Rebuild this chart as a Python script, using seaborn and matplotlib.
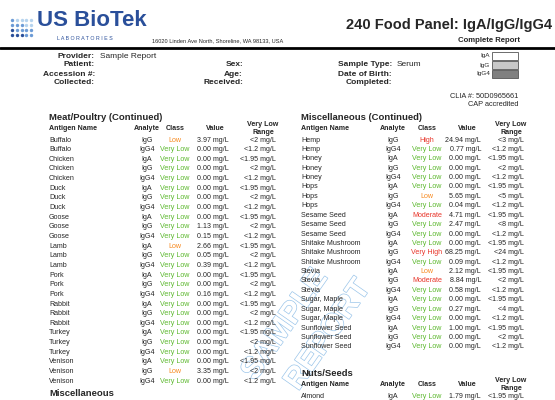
import matplotlib
matplotlib.use("Agg")
import matplotlib.pyplot as plt
import matplotlib.patheffects as pe
import seaborn as sns

sns.set_style("white")
plt.rcParams['font.family'] = ['Liberation Sans', 'DejaVu Sans']

left_names = ["Buffalo","Buffalo","Chicken","Chicken","Chicken","Duck","Duck","Duck","Goose","Goose","Goose",
              "Lamb","Lamb","Lamb","Pork","Pork","Pork","Rabbit","Rabbit","Rabbit","Turkey","Turkey","Turkey",
              "Venison","Venison","Venison"]
left_analyte = ["IgG","IgG4"] + ["IgA","IgG","IgG4"]*8
left_class = ["Low","Very Low","Very Low","Very Low","Very Low","Very Low","Very Low","Very Low","Very Low","Very Low","Very Low",
              "Low","Very Low","Very Low","Very Low","Very Low","Very Low","Very Low","Very Low","Very Low","Very Low","Very Low","Very Low",
              "Very Low","Low","Very Low"]
left_value = [3.97,0.00,0.00,0.00,0.00,0.00,0.00,0.00,0.00,1.13,0.15,2.66,0.05,0.39,0.00,0.00,0.16,0.00,0.00,0.00,0.00,0.00,0.00,0.00,3.35,0.00]
left_range = ["<2","<1.2"] + ["<1.95","<2","<1.2"]*8

right_names = ["Hemp","Hemp","Honey","Honey","Honey","Hops","Hops","Hops","Sesame Seed","Sesame Seed","Sesame Seed",
               "Shitake Mushroom","Shitake Mushroom","Shitake Mushroom","Stevia","Stevia","Stevia",
               "Sugar, Maple","Sugar, Maple","Sugar, Maple","Sunflower Seed","Sunflower Seed","Sunflower Seed"]
right_analyte = ["IgG","IgG4"] + ["IgA","IgG","IgG4"]*7
right_class = ["High","Very Low","Very Low","Very Low","Very Low","Very Low","Low","Very Low","Moderate","Very Low","Very Low",
               "Very Low","Very High","Very Low","Low","Moderate","Very Low","Very Low","Very Low","Very Low","Very Low","Very Low","Very Low"]
right_value = [24.94,0.77,0.00,0.00,0.00,0.00,5.65,0.04,4.71,2.47,0.00,0.00,68.25,0.09,2.12,8.84,0.58,0.00,0.27,0.00,1.00,0.00,0.00]
right_range = ["<3","<1.2","<1.95","<2","<1.2","<1.95","<5","<1.2","<1.95","<8","<1.2","<1.95","<24","<1.2",
               "<1.95","<2","<1.2","<1.95","<4","<1.2","<1.95","<2","<1.2"]

class_colors = {"Very Low":"#5cb82e","Low":"#f7891e","Moderate":"#e8352a","High":"#e8352a","Very High":"#e8352a"}

fig = plt.figure(figsize=(5.55,4.0), dpi=100)
ax = fig.add_axes([0,0,1,1])
ax.set_xlim(0,555); ax.set_ylim(400,0); ax.axis("off")

FS = 5.1
# header logo dots
blues = ["#b5d3ee","#6c9bd6","#2a4f9a"]
for i in range(5):
    for j in range(4):
        ax.scatter(12+i*4.8, 20+j*5, s=6, color=blues[min(2,max(0,(j+(4-i)//2)//2))], zorder=3, linewidths=0)
ax.text(37, 31, "US BioTek", fontsize=16, fontweight="bold", color="#2a4f9a", va="bottom")
ax.text(85, 38.5, "L A B O R A T O R I E S", fontsize=3.8, color="#2a4f9a", ha="center", va="center")
ax.text(152, 41, "16020 Linden Ave North, Shoreline, WA 98133, USA", fontsize=4.1, va="center")
ax.text(552, 25, "240 Food Panel: IgA/IgG/IgG4", fontsize=10.5, fontweight="bold", ha="right", va="center")
ax.text(489, 41, "Complete Report", fontsize=5.6, fontweight="bold", ha="center", va="center")
ax.plot([0,555],[48,48], color="black", lw=2)

def lab(x, y, s, v=None):
    ax.text(x, y, s, fontsize=6, fontweight="bold", ha="right", va="center")
    if v:
        ax.text(x+5, y, v, fontsize=6, ha="left", va="center")
lab(95,56,"Provider:","Sample Report"); lab(95,65,"Patient:"); lab(95,74,"Accession #:"); lab(95,83,"Collected:")
lab(243,65,"Sex:"); lab(243,74,"Age:"); lab(243,83,"Received:")
lab(392,65,"Sample Type:","Serum"); lab(392,74,"Date of Birth:"); lab(392,83,"Completed:")
for k,(nm,fc) in enumerate([("IgA","white"),("IgG","#c8c8c8"),("IgG4","#808080")]):
    y = 56+k*9
    ax.text(490, y, nm, fontsize=4.6, ha="right", va="center")
    ax.add_patch(plt.Rectangle((492,y-4),26,8, facecolor=fc, edgecolor="#555555", lw=0.6))
ax.text(518, 96, "CLIA #: 50D0965661", fontsize=5.3, ha="right", va="center")
ax.text(518, 105, "CAP accredited", fontsize=5.3, ha="right", va="center")

# watermark
for s, x, y in [("SAMPLE", 285, 325), ("REPORT", 328, 335)]:
    ax.text(x, y, s, fontsize=22, rotation=55, ha="center", va="center", color="white",
            fontweight="bold", zorder=0,
            path_effects=[pe.withStroke(linewidth=1.0, foreground="#9cc6ea")])

def table(x0, xa, xc, xv, xr, title, ytitle, names, an, cl, val, rng, y0, dy):
    ax.text(x0, ytitle, title, fontsize=6.8, fontweight="bold", va="center")
    yh = ytitle+11
    ax.text(x0, yh, "Antigen Name", fontsize=FS, fontweight="bold", va="center")
    ax.text(xa, yh, "Analyte", fontsize=FS, fontweight="bold", ha="center", va="center")
    ax.text(xc, yh, "Class", fontsize=FS, fontweight="bold", ha="center", va="center")
    ax.text(xv-14, yh, "Value", fontsize=FS, fontweight="bold", ha="center", va="center")
    ax.text(xr-13, yh-3, "Very Low", fontsize=FS, fontweight="bold", ha="center", va="center")
    ax.text(xr-13, yh+5, "Range", fontsize=FS, fontweight="bold", ha="center", va="center")
    for i,(n,a,c,v,r) in enumerate(zip(names,an,cl,val,rng)):
        y = y0+i*dy
        ax.text(x0, y, n, fontsize=FS, va="center", zorder=2)
        ax.text(xa, y, a, fontsize=FS, ha="center", va="center", zorder=2)
        ax.text(xc, y, c, fontsize=FS, ha="center", va="center", color=class_colors[c], zorder=2)
        ax.text(xv, y, f"{v:.2f} mg/L", fontsize=FS, ha="right", va="center", zorder=2)
        ax.text(xr, y, f"{r} mg/L", fontsize=FS, ha="right", va="center", zorder=2)

table(49,147,175,229,276,"Meat/Poultry (Continued)",117,left_names,left_analyte,left_class,left_value,left_range,140,9.65)
table(301,393,427,481,524,"Miscellaneous (Continued)",117,right_names,right_analyte,right_class,right_value,right_range,140,9.4)
table(301,393,427,481,524,"Nuts/Seeds",373,["Almond"],["IgA"],["Very Low"],[1.79],["<1.95"],397,9.4)
ax.text(49, 398, "Miscellaneous", fontsize=6.8, fontweight="bold", va="bottom")

fig.savefig("out.png", dpi=100)
